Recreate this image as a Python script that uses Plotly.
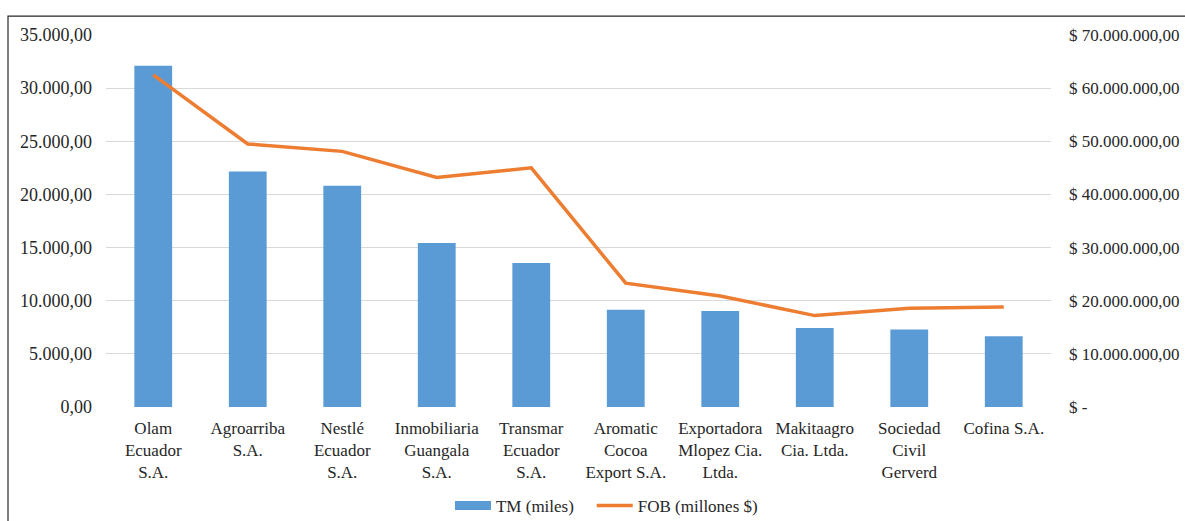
import plotly.graph_objects as go

categories = [
    "Olam<br>Ecuador<br>S.A.",
    "Agroarriba<br>S.A.",
    "Nestlé<br>Ecuador<br>S.A.",
    "Inmobiliaria<br>Guangala<br>S.A.",
    "Transmar<br>Ecuador<br>S.A.",
    "Aromatic<br>Cocoa<br>Export S.A.",
    "Exportadora<br>Mlopez Cia.<br>Ltda.",
    "Makitaagro<br>Cia. Ltda.",
    "Sociedad<br>Civil<br>Gerverd",
    "Cofina S.A.",
]
tm_miles = [32100, 22150, 20820, 15420, 13560, 9140, 9040, 7440, 7280, 6660]
fob = [62.5e6, 49.5e6, 48.1e6, 43.2e6, 45.0e6, 23.3e6, 20.9e6, 17.2e6, 18.6e6, 18.8e6]

left_ticks = [0, 5000, 10000, 15000, 20000, 25000, 30000, 35000]
right_ticks = [0, 10e6, 20e6, 30e6, 40e6, 50e6, 60e6, 70e6]
right_ticktext = ["$ -", "$ 10.000.000,00", "$ 20.000.000,00", "$ 30.000.000,00",
                  "$ 40.000.000,00", "$ 50.000.000,00", "$ 60.000.000,00", "$ 70.000.000,00"]

FONT = "Liberation Serif"
FS = 18
BLUE = "#5b9bd5"
ORANGE = "#ed7d31"

fig = go.Figure()
fig.add_trace(go.Bar(x=categories, y=tm_miles, name="TM (miles)", showlegend=False,
                     marker=dict(color=BLUE, line=dict(width=0)), yaxis="y"))
# legend-only entry so the key is a wide rectangle as in the original
fig.add_trace(go.Scatter(x=[None], y=[None], name="TM (miles)", mode="lines",
                         line=dict(color=BLUE, width=9), yaxis="y", hoverinfo="skip",
                         legend="legend"))
fig.add_trace(go.Scatter(x=categories, y=fob, name="FOB (millones $)", mode="lines",
                         line=dict(color=ORANGE, width=3.5), yaxis="y2", legend="legend2"))

legend_common = dict(orientation="h", y=-0.266, yanchor="middle", xanchor="left",
                     font=dict(family=FONT, size=17, color="#262626"),
                     itemwidth=36, bgcolor="rgba(0,0,0,0)")

fig.update_layout(
    width=1185, height=521,
    margin=dict(l=106, r=134, t=35, b=114, autoexpand=False),
    paper_bgcolor="white", plot_bgcolor="white",
    font=dict(family=FONT, size=FS, color="#262626"),
    separators=",.",
    bargap=0.6,
    showlegend=True,
    legend=dict(x=0.364, **legend_common),
    legend2=dict(x=0.514, **legend_common),
    xaxis=dict(type="category", showgrid=False, showline=False, ticks="",
               tickangle=0, range=[-0.5, 9.5], automargin=False,
               tickfont=dict(family=FONT, size=17), ticklabelstandoff=9),
    yaxis=dict(range=[0, 35000], tickvals=left_ticks, tickformat=",.2f",
               showgrid=True, gridcolor="#d9d9d9", gridwidth=1.4, zeroline=False,
               showline=False, ticks="", ticklabelstandoff=13, automargin=False,
               tickfont=dict(family=FONT, size=FS)),
    yaxis2=dict(range=[0, 70e6], overlaying="y", side="right", tickvals=right_ticks,
                ticktext=right_ticktext, showgrid=False, zeroline=False,
                showline=False, ticks="", ticklabelstandoff=17, automargin=False,
                tickfont=dict(family=FONT, size=17)),
    shapes=[dict(type="rect", xref="paper", yref="paper",
                 x0=-0.1037, x1=1.2, y0=-0.4, y1=1.051,
                 line=dict(color="#262626", width=1.2), fillcolor="rgba(0,0,0,0)", layer="below")],
)

fig.write_html("out.html", config={"displayModeBar": False},
               post_script="document.body.style.margin='0';document.body.style.overflow='hidden';")
